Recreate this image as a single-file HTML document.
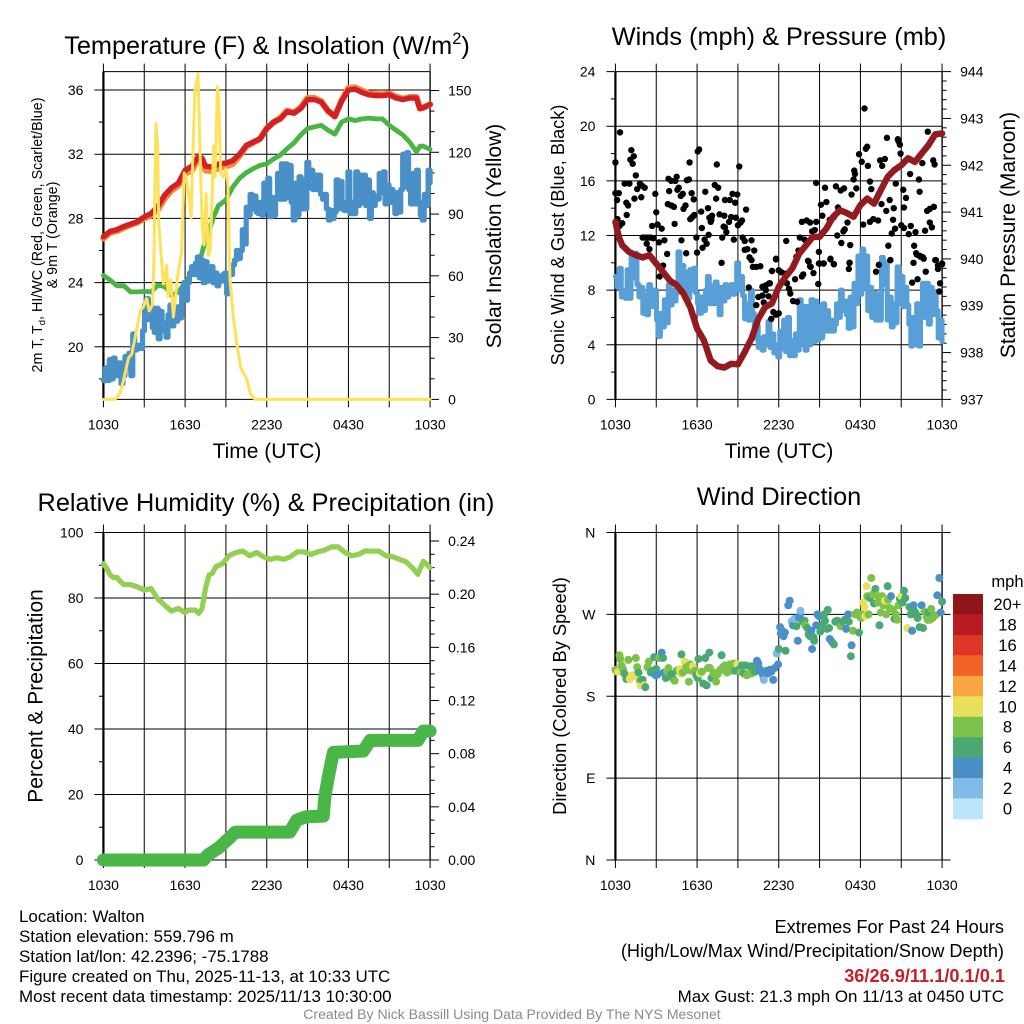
<!DOCTYPE html>
<html lang="en">
<head>
<meta charset="utf-8">
<title>NYS Mesonet Station Meteogram - Walton</title>
<style>
html,body{margin:0;padding:0;background:#fff;}
svg{display:block;}
text{font-family:"Liberation Sans",Arial,Helvetica,sans-serif;fill:#000;}
.tick{font-size:14px;}
.axt{font-size:21px;}
.ttl{font-size:25.3px;}
.foot{font-size:16.95px;}
.foot-lg{font-size:18.2px;}
</style>
</head>
<body>
<svg id="fig" xmlns="http://www.w3.org/2000/svg" width="1024" height="1024" viewBox="0 0 1024 1024">
<rect x="0" y="0" width="1024" height="1024" fill="#fff"/>
<g id="p1"></g>
<g id="p2"></g>
<g id="p3"></g>
<g id="p4"></g>
<g id="cb"></g>

<text class="ttl" x="267" y="54" text-anchor="middle">Temperature (F) &amp; Insolation (W/m<tspan font-size="16.5" dy="-10">2</tspan><tspan dy="10">)</tspan></text>
<text class="ttl" x="779" y="45" text-anchor="middle">Winds (mph) &amp; Pressure (mb)</text>
<text class="ttl" x="266" y="511" text-anchor="middle">Relative Humidity (%) &amp; Precipitation (in)</text>
<text class="ttl" x="779" y="505" text-anchor="middle">Wind Direction</text>

<text class="axt" x="267" y="458" text-anchor="middle">Time (UTC)</text>
<text class="axt" x="779" y="458" text-anchor="middle">Time (UTC)</text>

<text font-size="14.3" text-anchor="middle" transform="translate(42,235) rotate(-90)">2m T, T<tspan font-size="9.5" dy="3">d</tspan><tspan dy="-3">, HI/WC (Red, Green, Scarlet/Blue)</tspan></text>
<text font-size="14.3" text-anchor="middle" transform="translate(57,235) rotate(-90)">&amp; 9m T (Orange)</text>
<text class="axt" text-anchor="middle" transform="translate(501,236) rotate(-90)">Solar Insolation (Yellow)</text>
<text font-size="18.2" text-anchor="middle" transform="translate(564,235) rotate(-90)">Sonic Wind &amp; Gust (Blue, Black)</text>
<text class="axt" text-anchor="middle" transform="translate(1015,235) rotate(-90)">Station Pressure (Maroon)</text>
<text class="axt" text-anchor="middle" transform="translate(42.5,696) rotate(-90)">Percent &amp; Precipitation</text>
<text font-size="18.3" text-anchor="middle" transform="translate(566,696) rotate(-90)">Direction (Colored By Speed)</text>

<text class="foot" x="19" y="922">Location: Walton</text>
<text class="foot" x="19" y="942">Station elevation: 559.796 m</text>
<text class="foot" x="19" y="962">Station lat/lon: 42.2396; -75.1788</text>
<text class="foot" x="19" y="982">Figure created on Thu, 2025-11-13, at 10:33 UTC</text>
<text class="foot" x="19" y="1002">Most recent data timestamp: 2025/11/13 10:30:00</text>
<text class="foot-lg" x="1004" y="933" text-anchor="end">Extremes For Past 24 Hours</text>
<text class="foot-lg" x="1004" y="957" text-anchor="end">(High/Low/Max Wind/Precipitation/Snow Depth)</text>
<text class="foot-lg" x="1005" y="982" text-anchor="end" font-weight="bold" style="fill:#c4202b">36/26.9/11.1/0.1/0.1</text>
<text class="foot" x="1004" y="1002" text-anchor="end">Max Gust: 21.3 mph On 11/13 at 0450 UTC</text>
<text font-size="14.05" x="512" y="1019" text-anchor="middle" style="fill:#8a8a8a">Created By Nick Bassill Using Data Provided By The NYS Mesonet</text>
</svg>
<script>
// ---- shared time axis ----
const timeTicks = [0, 3, 6, 9, 12, 15, 18, 21, 24];
const timeLabelHours = [0, 6, 12, 18, 24];
const timeLabels = ['1030', '1630', '2230', '0430', '1030'];

// ---- panel 1: temperature & insolation ----
const tempTicks = [20, 24, 28, 32, 36];
const tempMinorTicks = [18, 22, 26, 30, 34];
const solarTicks = [0, 30, 60, 90, 120, 150];
const solarMinorTicks = [10, 20, 40, 50, 70, 80, 100, 110, 130, 140];
const tempHours = [0,.5,1,1.5,2,2.5,3,3.5,4,4.5,5,5.5,6,6.5,7,7.25,7.5,8,8.5,9,9.5,10,10.5,11,11.5,12,12.5,13,13.5,14,14.5,15,15.5,16,16.5,17,17.5,18,18.5,19,19.5,20,20.5,21,21.5,22,22.5,23,23.25,23.5,24];
const redTemp = [26.86,27.2,27.3,27.5,27.65,27.8,28.1,28.3,28.75,29.45,29.9,30.2,31.0,31.25,31.9,31.75,31.25,31.2,31.4,31.45,31.6,32.0,32.55,32.75,32.95,33.6,34.0,34.2,34.65,34.55,34.85,35.4,35.4,35.25,34.7,34.35,35.3,36.0,36.05,35.85,35.7,35.65,35.65,35.7,35.5,35.4,35.5,35.5,34.85,34.9,35.1];
const orangeTemp = [26.76,27.12,27.22,27.42,27.6,27.75,28.0,28.2,28.55,29.25,29.75,30.05,30.8,31.0,31.8,31.55,31.0,30.95,31.15,31.25,31.4,31.9,32.5,32.72,32.95,33.6,33.98,34.25,34.7,34.6,34.9,35.5,35.5,35.3,34.7,34.35,35.35,36.12,36.15,35.95,35.78,35.75,35.72,35.78,35.58,35.45,35.55,35.55,34.85,34.9,35.1];
const greenHours = [0,.5,1,1.5,2,2.5,3,3.5,4,4.5,4.8,5,5.5,6,6.5,7.1,7.35,7.7,8.1,8.45,9,9.5,10,10.5,11,11.5,12,12.5,13,13.5,14,14.5,15,15.5,16,16.5,17,17.5,18,18.5,19,19.5,20,20.5,21,21.5,22,22.5,23,23.25,23.5,24];
const greenTemp = [24.45,24.15,23.8,23.8,23.42,23.42,23.45,23.42,23.85,23.75,23.5,23.2,23.4,24.0,24.6,25.4,26.2,27.05,28.1,28.8,29.15,29.95,30.5,30.85,31.1,31.3,31.4,31.7,31.95,32.35,32.7,33.2,33.6,33.7,33.8,33.5,33.25,34.0,34.2,34.1,34.2,34.25,34.2,34.2,33.8,33.5,33.2,32.75,32.15,32.5,32.5,32.3];
const dewpoint = [
17.9,18.7,17.9,19.2,18.0,19.3,18.9,
18.2,19.0,17.7,18.2,19.4,18.7,19.6,
18.2,20.8,19.8,19.9,20.1,19.9,21.0,
22.6,23.0,21.7,22.5,21.2,20.9,22.4,
20.5,22.2,21.5,21.0,20.6,22.0,22.6,
21.3,22.4,21.6,22.5,21.8,23.5,24.0,
22.9,24.0,24.6,25.0,24.5,25.2,25.6,
24.3,25.4,24.0,25.3,24.1,24.5,25.0,
24.0,24.6,23.8,24.4,24.1,24.5,24.6,
23.3,24.5,24.5,25.1,25.4,26.0,25.5,
26.0,27.3,26.4,28.7,28.2,29.5,28.6,
29.4,28.4,28.3,29.0,28.2,30.2,28.5,
30.5,28.1,29.3,28.2,29.3,30.8,29.2,
31.4,29.2,31.4,29.3,31.3,29.0,27.9,
30.2,28.2,30.6,28.6,30.4,28.6,31.5,
29.9,31.0,29.8,30.7,29.8,30.7,29.5,
29.2,29.5,28.6,27.9,28.5,28.0,28.4,
30.4,28.6,30.3,29.0,28.5,29.0,30.9,
28.3,29.0,28.3,30.9,28.8,30.7,29.0,
30.7,28.8,30.4,28.0,29.6,28.8,29.4,
29.2,30.8,29.6,30.9,28.9,30.1,29.0,
29.8,29.0,28.3,29.6,28.4,29.8,32.0,
30.0,32.1,29.8,28.9,30.8,28.9,31.0,
29.0,28.2,27.9,29.5,28.8,31.0,30.2
];
const solarHours = [0,.85,1.22,1.5,1.84,2.08,2.33,2.7,2.95,3.18,3.36,3.62,3.72,3.85,3.97,4.07,4.24,4.41,4.65,4.75,4.95,5.14,5.3,5.5,5.75,5.93,6.07,6.25,6.44,6.6,6.73,6.95,7.1,7.25,7.4,7.54,7.7,7.84,8.0,8.08,8.2,8.38,8.47,8.62,8.8,9,9.14,9.3,9.55,9.8,10.1,10.53,10.78,11.14,24];
const solarValues = [0,0,3,10,20,22,30,43,45,49,43,46,70,134,125,85,70,56,65,50,58,40,50,62,72,110,108,100,88,125,150,158,120,85,75,100,70,72,100,123,108,152,145,110,108,112,105,58,40,27,15,10,3,0,0];

// ---- panel 2: wind & pressure ----
const windTicks = [0, 4, 8, 12, 16, 20, 24];
const windMinorTicks = [2, 6, 10, 14, 18, 22];
const pressureTicks = [937, 938, 939, 940, 941, 942, 943, 944];
const pressureMinorTicks = [937.2,937.4,937.6,937.8,938.2,938.4,938.6,938.8,939.2,939.4,939.6,939.8,940.2,940.4,940.6,940.8,941.2,941.4,941.6,941.8,942.2,942.4,942.6,942.8,943.2,943.4,943.6,943.8];
const sonicWind = [
9.0,8.2,9.6,7.5,8.0,7.4,9.5,
7.4,10.6,8.9,10.7,8.4,7.5,8.2,
6.3,7.7,6.2,8.4,6.8,7.2,8.0,
5.8,4.6,6.3,5.3,7.3,5.6,8.4,
6.9,8.0,7.2,7.8,10.8,8.2,9.8,
8.1,9.3,7.4,9.5,8.0,9.6,7.8,
7.0,6.3,7.5,6.5,8.0,9.0,7.0,
8.3,7.0,8.6,7.5,6.2,8.2,7.2,
8.4,7.5,8.1,8.4,7.7,8.0,10.0,
8.0,9.0,7.6,5.9,7.0,5.8,8.0,
6.3,4.5,5.4,3.8,4.5,3.6,4.6,
4.0,5.7,3.8,4.8,3.4,4.0,3.1,
5.0,3.7,5.8,3.5,6.0,3.2,4.3,
3.2,4.8,3.6,7.3,4.0,6.8,3.6,
6.8,4.0,7.3,4.2,7.2,4.3,6.8,
4.5,7.0,5.0,6.5,5.0,5.8,5.0,
5.5,7.0,6.0,8.0,6.5,7.2,6.2,
5.2,7.5,5.3,8.5,7.0,10.5,7.7,
11.0,8.2,10.5,6.5,8.2,6.0,7.8,
5.8,7.7,5.8,10.4,8.4,10.0,5.8,
7.5,5.3,7.0,5.6,9.7,7.0,9.0,
6.8,8.2,6.9,5.5,3.9,6.0,4.0,
7.0,3.9,6.5,8.5,6.0,8.5,5.5,
8.2,6.2,7.9,6.5,4.5,5.8,4.2
];
const pressureHours = [0,.25,.5,1,1.5,2,2.5,3,3.5,4,4.5,5,5.5,6,6.5,7,7.5,8,8.5,9,9.5,10,10.5,11,11.5,12,12.5,13,13.5,14,14.5,15,15.5,16,16.5,17,17.5,18,18.5,19,19.5,20,20.5,21,21.5,22,22.5,23,23.5,24];
const pressureValues = [940.79,940.47,940.29,940.15,940.08,940.03,940.08,939.9,939.72,939.54,939.44,939.26,938.97,938.51,938.26,937.83,937.71,937.68,937.76,937.75,938.01,938.3,938.72,938.97,939.05,939.4,939.62,939.8,940.11,940.29,940.47,940.47,940.65,940.9,941.04,940.98,940.9,941.15,941.29,941.18,941.47,941.75,941.9,942.0,942.15,942.07,942.25,942.43,942.66,942.68];
const gustHours = [.34,0,1.17,1.35,1.1,1.27,1.5,.68,1.03,1.8,1.6,1.95,2.15,0,.25,.12,.8,.93,1.4,1.9,2.93,3,.83,.15,.5,.3,2.7,3.1,3.4,2,2.2,2.4,2.8,2.6,2.3,2.5,3.2,3.6,3.8,3.5,3.25,
3.9,4.1,4.4,4.5,3.95,4.65,4.55,4.95,4.8,3.85,4.1,4.3,5.15,5,4.35,5.25,5.4,5.45,6.15,6.05,5.6,5.75,6.6,6.3,6.8,5.75,5.5,5.6,5.8,6.9,7.1,7.05,7,6.35,6.85,5.95,4.85,5.2,6,6.4,6.7,6.55,
7.45,9.1,7.3,7.55,7.4,8.05,8.4,8.6,8.95,8.8,7.65,8,8.35,8.5,8.85,9.3,9.2,9,9.6,7.95,8.05,8.15,7.85,8.7,9.35,9.5,10,9.7,9.5,10.2,7.8,9.85,10,10.1,10.35,10.65,11.8,11.5,12,9.8,11.35,11.05,10.8,
10.35,10.5,10.8,11.05,11.3,10.9,11.25,11.6,12,11.8,11.45,11.5,11.8,12,12.2,12.5,12.6,12.75,12.85,13.05,13.35,13.2,13.7,13.8,13.35,14.2,14.35,14.55,14.9,15,15.3,15.8,16.05,17.2,17.15,19.15,19.35,20.2,21.9,22.15,22.4,22.65,22.8,22.2,21.8,23.55,24,23.7,23.85,23.8,
18.3,19.95,20.75,20.8,20.9,20.95,22.95,18.5,18.4,17.9,18.1,18.55,19.45,19.8,19.6,23.35,23.45,22.55,21.65,17.55,17.6,17.5,22.3,22.35,20.6,21.15,21.35,18.7,18.8,17.7,17.35,14.75,15.4,16.2,16.55,16.8,
15.5,15.1,16.35,15.2,15.75,16.05,13.7,14.05,14.3,14.75,14.65,14.45,20.15,19.55,19.9,20.45,21.2,20.4,20.55,20.3,23.4,23.1,22.9,23.1,23.25,22.75,22.05,21.7,21.55,21,21.2,
18.95,18.7,19.3,18.2,17.05,16.85,16.75,16.3,13.55,13.9,12.55,16.6,17.25,13.45,14.95,13.3,20.05,21.95,22.1,22.4,22.6,15.8,16.05,17.2,14.15,14.3,14.95,15.3,20.2,23.5,23.7,24];
const gustValues = [19.55,17.35,18.25,17.8,17.55,17.25,16.4,15.8,15.8,15.8,15.4,15.65,15.5,15.1,15.1,14.6,14.4,14.2,14.7,14.8,15.05,13.7,13.5,13.2,12.9,12.7,12.7,12.8,12.5,11.85,11.85,11.85,11.8,11.85,11.4,11,11.5,11.65,10.65,9.8,9,
16.15,16,16,16.3,15.25,15.5,15.35,15.05,14.9,14.3,14.2,14.1,14.2,13.95,12.85,16.05,16.1,17.35,18.3,18.15,15.1,14.65,15.2,13.75,14,13.45,13.2,13.3,13.5,13.3,13.45,13.15,13,12.55,12.05,11.85,11.65,10.7,10.75,11.1,11.4,11.7,
17.2,17.05,15.7,15.5,14.7,14.6,14.6,15.05,15,14.4,13.55,13.45,13,13.35,13.3,13.1,12.95,12.75,13.9,12.65,12.6,12.25,11.85,11.7,11.85,11.6,11.65,11,10.95,10.9,10,10.4,10.2,9.7,9.7,9.75,10.3,9.4,9.45,8.2,8.5,8.35,8.25,
6.9,7.5,7.6,8,8.5,7.1,7.55,6.4,6.3,6.2,5.9,9.4,10.25,9.45,9.3,9.2,8.5,8.1,7.75,7.2,7.15,8.8,9,9.15,10.4,10.1,9.7,9.25,8.45,9.95,9.95,10.25,9.9,10,9.55,9.35,9.85,10.2,10,10.6,10.45,10.3,9.35,8.8,8.55,10.2,9.95,9.55,8.5,7.9,
21.3,19.15,19.05,18.9,18.65,18,19.6,18.5,18.35,17.95,17.4,17.1,17.5,17.6,17.1,17.5,17.2,17.3,16.5,16.75,16.5,16.1,16.1,15.2,15.8,15.35,14.75,15.95,15.4,15.45,15,15.85,15.5,15.6,15.3,15.45,
14.45,14.25,14.05,13.45,13.15,13.35,13,13.1,12.95,13,12.4,12.3,14.6,14.3,13.8,14,14.05,13.15,12.5,12.15,14.1,13.95,13.8,12.95,12.6,12.35,12.25,12.7,12.1,12.75,12.55,
13.2,13,13.1,12.8,12.95,12.45,12.3,12,11.85,11.7,11.6,11.45,11.3,10.9,10.8,10.45,11.25,11.25,10.7,10.5,10.4,10.3,9.9,10,10.15,9.75,9.95,9.95,10.2,10.2,9.8,9.9];

// ---- panel 3: humidity & precipitation ----
const rhTicks = [0, 20, 40, 60, 80, 100];
const rhMinorTicks = [10, 30, 50, 70, 90];
const precipTicks = [0, .04, .08, .12, .16, .2, .24];
const precipTickLabels = ['0.00', '0.04', '0.08', '0.12', '0.16', '0.20', '0.24'];
const precipMinorTicks = [.01,.02,.03,.05,.06,.07,.09,.10,.11,.13,.14,.15,.17,.18,.19,.21,.22,.23];
const rhHours = [0,.25,.5,.75,1,1.25,1.5,2,2.5,3,3.5,4,4.5,5,5.5,6,6.25,6.75,7,7.25,7.5,7.75,8,8.25,8.75,9.25,9.75,10.25,10.75,11.25,11.75,12.25,12.75,13.25,13.75,14.25,14.75,15.25,15.75,16.25,16.75,17.25,17.75,18.25,18.75,19.25,19.75,20.25,20.75,21.25,21.75,22.25,22.75,23.1,23.5,24];
const rhValues = [90.5,89,87,86.2,86.3,85,84.1,84.1,83.4,82.4,82.9,79.7,77.8,76,76.8,75.5,76.3,76.3,75.3,76.8,82.9,87,87.5,89.5,90.5,93,93.9,94.3,92.9,93.9,92.6,91.8,92.3,91.8,92.6,94.1,94.1,93.3,94.1,94.6,95.6,95.6,93.9,92.9,93.3,94.4,94.3,94.3,92.9,92.6,91.8,91,89,87.2,91.2,89.3];
const precipHours = [0,7.35,7.7,8.45,9.2,9.7,13.7,14.2,14.9,16.15,16.2,16.27,16.5,16.75,16.9,19.1,19.6,23.1,23.5,24];
const precipValues = [0,0,.004,.009,.016,.021,.021,.03,.0325,.033,.039,.0476,.061,.074,.081,.082,.09,.09,.097,.097];

// ---- panel 4: wind direction ----
const compassTicks = [0, 90, 180, 270, 360];
const compassLabels = ['N', 'E', 'S', 'W', 'N'];
const dirHours = [
0,0.1,0.2,0.3,0.35,0.45,0.55,0.65,0.8,0.95,
1.05,1.1,1.2,1.3,1.45,1.5,1.6,1.7,1.8,1.85,1.95,
2.0,2.1,2.2,2.35,2.45,2.6,2.75,2.85,2.95,
3.0,3.1,3.2,3.4,3.5,3.55,3.7,3.8,3.9,
4.0,4.1,4.25,4.35,4.5,4.6,4.75,4.8,4.85,4.95,
5.1,5.2,5.3,5.4,5.5,5.6,5.7,5.85,5.95,
6.05,6.1,6.2,6.35,6.45,6.6,6.7,6.8,6.9,6.95,
7.05,7.2,7.3,7.4,7.5,7.6,7.7,7.8,7.9,8.0,
8.05,8.2,8.3,8.4,8.5,8.6,8.7,8.8,8.95,
9.05,9.2,9.3,9.45,9.55,9.65,9.75,9.9,
10.0,10.1,10.25,10.4,10.5,10.6,10.7,10.85,10.9,
11.0,11.1,11.2,11.35,11.45,11.6,11.7,11.85,11.95,
12.0,12.1,12.15,12.25,12.35,12.45,12.5,12.7,12.8,12.95,
13.05,13.15,13.3,13.4,13.5,13.55,13.6,13.75,13.9,13.95,
14.1,14.2,14.3,14.4,14.45,14.55,14.6,14.75,14.85,14.95,
15.05,15.15,15.25,15.35,15.4,15.55,15.6,15.7,15.75,15.9,
16.05,16.15,16.3,16.4,16.55,16.7,16.85,16.95,
17.1,17.15,17.3,17.35,17.45,17.6,17.75,17.9,17.95,
18.05,18.1,18.2,18.3,18.35,18.45,18.5,18.6,18.7,18.8,18.9,
19.0,19.1,19.2,19.3,19.4,19.5,19.6,19.7,19.8,19.9,
20.0,20.05,20.15,20.25,20.4,20.5,20.6,20.7,20.8,20.9,
21.0,21.1,21.2,21.3,21.45,21.6,21.7,21.8,21.9,
22.0,22.1,22.2,22.35,22.5,22.6,22.7,22.85,22.95,
23.0,23.1,23.2,23.3,23.4,23.5,23.65,23.8,23.9,24.0];
const dirDegrees = [
209,207,207,225,221,214,210,205,199,220,
199,200,203,202,204,222,212,206,197,192,198,
198,192,190,212,218,206,208,223,203,
210,204,222,228,222,206,200,207,211,
205,204,199,197,208,209,210,205,226,206,
218,212,209,196,215,208,213,208,203,
200,221,205,207,194,222,192,211,228,211,
200,206,204,196,204,207,209,225,212,209,
214,206,212,215,208,214,216,208,215,
209,207,214,205,214,203,205,213,
205,213,207,219,216,210,207,203,198,
206,208,205,209,207,198,211,227,215,
232,256,249,252,246,250,230,280,285,262,
258,265,257,241,266,269,274,262,263,258,
255,248,246,252,232,245,241,258,270,268,
251,258,256,270,263,254,275,255,243,240,
237,262,263,261,257,262,264,254,
270,262,224,236,252,270,272,250,268,
266,270,283,278,268,301,290,270,288,310,292,
282,298,291,283,258,272,290,280,285,270,
301,286,277,290,275,265,270,264,280,287,
290,283,296,288,255,278,270,252,280,
273,270,266,256,280,255,273,268,264,
272,264,276,266,268,269,291,310,272,284];
const dirSpeeds = [
8,8,10,8,8,8,8,6,6,8,
10,10,10,10,10,8,8,6,8,10,6,
6,10,6,8,8,6,6,6,4,
6,4,8,4,6,4,6,8,8,
8,6,6,8,6,8,10,10,6,8,
10,8,8,8,8,8,10,8,6,
6,6,10,8,6,6,6,8,6,8,
6,8,8,8,8,8,8,6,8,8,
8,8,8,8,8,8,8,6,10,
6,8,6,6,6,8,8,6,
8,6,6,4,4,4,4,4,2,
4,4,4,4,4,4,4,2,4,
6,4,4,4,4,4,6,4,4,2,
4,2,6,4,4,4,2,6,6,8,
6,6,6,4,4,6,6,4,4,4,
6,6,6,6,6,6,6,6,4,4,
6,6,6,6,8,6,6,4,
4,6,6,4,8,8,8,6,8,
8,8,10,10,10,10,8,8,6,8,8,
6,6,8,8,6,8,8,8,10,8,
6,8,8,4,8,6,8,8,8,6,
10,6,6,6,10,6,6,4,4,
6,6,6,6,4,6,8,8,8,
6,8,8,8,8,8,4,4,4,6];

// ---- colour bar ----
const speedLevels = [20, 18, 16, 14, 12, 10, 8, 6, 4, 2, 0];
const speedLabels = ['20+', '18', '16', '14', '12', '10', '8', '6', '4', '2', '0'];
const speedColors = ['#8f1519', '#b91b23', '#de3527', '#f26328', '#f8a743', '#e8e05a', '#7cc24a', '#49a874', '#4a90c8', '#7fbbe6', '#bce6f9'];

// ---- helpers ----
const NS = 'http://www.w3.org/2000/svg';
function make(tag, parent, attrs, txt) {
  const node = document.createElementNS(NS, tag);
  for (const k in attrs) node.setAttribute(k, attrs[k]);
  if (txt !== undefined) node.textContent = txt;
  parent.appendChild(node);
  return node;
}
function linScale(d0, d1, r0, r1) {
  return function (v) { return r0 + (v - d0) * (r1 - r0) / (d1 - d0); };
}
function evenHours(values) {
  return values.map(function (_, i) { return i * 24 / (values.length - 1); });
}
function seg(parent, x1, y1, x2, y2, w, name) {
  const ln = make('line', parent, { x1: x1, y1: y1, x2: x2, y2: y2, stroke: '#000', 'stroke-width': w });
  
  
  return ln;
}
function label(parent, x, y, anchor, str, name, size) {
  const t = make('text', parent, { x: x, y: y, 'text-anchor': anchor, class: 'tick' }, str);
  if (size) t.setAttribute('style', 'font-size:' + size + 'px');
  
  
  return t;
}
function linePath(parent, hours, values, xs, ys, color, width, name) {
  let d = '';
  for (let i = 0; i < values.length; i++) {
    d += (i ? 'L' : 'M') + xs(hours[i]).toFixed(2) + ' ' + ys(values[i]).toFixed(2);
  }
  const p = make('path', parent, { d: d, fill: 'none', stroke: color, 'stroke-width': width, 'stroke-linejoin': 'round', 'stroke-linecap': 'round' });
  
  
  return p;
}
function stepPath(parent, hours, values, xs, ys, color, width, name) {
  let d = 'M' + xs(hours[0]).toFixed(2) + ' ' + ys(values[0]).toFixed(2);
  for (let i = 1; i < values.length; i++) {
    d += 'H' + xs(hours[i]).toFixed(2) + 'V' + ys(values[i]).toFixed(2);
  }
  const p = make('path', parent, { d: d, fill: 'none', stroke: color, 'stroke-width': width, 'stroke-linejoin': 'round', 'stroke-linecap': 'round' });
  
  
  return p;
}
function frame(g, box, xs, leftScale, leftTicks, leftLabels, leftMinor, rightScale, rightTicks, rightLabels, rightMinor) {
  timeTicks.forEach(function (h) {
    seg(g, xs(h), box.top - 8, xs(h), box.bottom + 8, 1, 'x-grid-line');
  });
  leftTicks.forEach(function (v) {
    seg(g, box.left - 9, leftScale(v), box.right + (box.extendRight || 0), leftScale(v), 1, 'y-grid-line');
  });
  leftMinor.forEach(function (v) {
    seg(g, box.left - 4.5, leftScale(v), box.left, leftScale(v), 1, 'y-minor-tick');
  });
  seg(g, box.left, box.top, box.left, box.bottom, 2.2, 'left-axis-line');
  seg(g, box.right, box.top, box.right, box.bottom, 1.3, 'right-axis-line');
  leftTicks.forEach(function (v, i) {
    label(g, box.left - 20, leftScale(v) + 5, 'end', leftLabels[i], 'y-tick-label');
  });
  timeLabelHours.forEach(function (h, i) {
    label(g, xs(h), box.bottom + 30, 'middle', timeLabels[i], 'x-tick-label');
  });
  if (rightScale) {
    rightTicks.forEach(function (v, i) {
      seg(g, box.right, rightScale(v), box.right + 9, rightScale(v), 1, 'right-major-tick');
      label(g, box.right + 18, rightScale(v) + 5, 'start', rightLabels[i], 'right-tick-label');
    });
    rightMinor.forEach(function (v) {
      seg(g, box.right, rightScale(v), box.right + 4.5, rightScale(v), 1, 'right-minor-tick');
    });
  }
}

// ---- panel 1 ----
(function () {
  const g = document.getElementById('p1');
  const box = { left: 103.42, right: 430.07, top: 71.6, bottom: 399.4 };
  const xs = linScale(0, 24, box.left, box.right);
  const yT = linScale(20, 36, 346.8, 90);
  const yS = linScale(0, 150, box.bottom, 90.5);
  frame(g, box, xs, yT, tempTicks, tempTicks.map(String), tempMinorTicks, yS, solarTicks, solarTicks.map(String), solarMinorTicks);
  seg(g, box.left, box.top, box.right, box.top, 1, 'top-axis-line');
  seg(g, box.left, box.bottom, box.right, box.bottom, 1, 'bottom-axis-line');
  linePath(g, tempHours, orangeTemp, xs, yT, '#f5883a', 6.4, 'orange-9m-temperature-line');
  linePath(g, tempHours, redTemp, xs, yT, '#d32027', 5.4, 'red-2m-temperature-line');
  linePath(g, greenHours, greenTemp, xs, yT, '#48b545', 4.8, 'green-heat-index-line');
  stepPath(g, evenHours(dewpoint), dewpoint, xs, yT, '#4a90c8', 5.2, 'blue-dewpoint-line');
  linePath(g, solarHours, solarValues, xs, yS, '#fde25a', 3, 'yellow-insolation-line');
})();

// ---- panel 2 ----
(function () {
  const g = document.getElementById('p2');
  const box = { left: 615.42, right: 942.07, top: 71.6, bottom: 399.4 };
  const xs = linScale(0, 24, box.left, box.right);
  const yW = linScale(0, 24, box.bottom, box.top);
  const yP = linScale(937, 944, box.bottom, box.top);
  frame(g, box, xs, yW, windTicks, windTicks.map(String), windMinorTicks, yP, pressureTicks, pressureTicks.map(String), pressureMinorTicks);
  stepPath(g, evenHours(sonicWind), sonicWind, xs, yW, '#589ed7', 5, 'blue-sonic-wind-line');
  gustValues.forEach(function (v, i) {
    const c = make('circle', g, { cx: xs(gustHours[i]).toFixed(2), cy: yW(v).toFixed(2), r: 3.2, fill: '#000' });
    
    
  });
  linePath(g, pressureHours, pressureValues, xs, yP, '#931a1e', 6.4, 'maroon-pressure-line');
})();

// ---- panel 3 ----
(function () {
  const g = document.getElementById('p3');
  const box = { left: 103.42, right: 430.07, top: 532.5, bottom: 860 };
  const xs = linScale(0, 24, box.left, box.right);
  const yR = linScale(0, 100, box.bottom, box.top);
  const yI = linScale(0, .24, box.bottom, 541);
  frame(g, box, xs, yR, rhTicks, rhTicks.map(String), rhMinorTicks, yI, precipTicks, precipTickLabels, precipMinorTicks);
  linePath(g, rhHours, rhValues, xs, yR, '#92cf53', 5.2, 'relative-humidity-line');
  linePath(g, precipHours, precipValues, xs, yI, '#4ab648', 13, 'precipitation-line');
})();

// ---- panel 4 ----
(function () {
  const g = document.getElementById('p4');
  const box = { left: 615.42, right: 942.07, top: 532.5, bottom: 860, extendRight: 8.5 };
  const xs = linScale(0, 24, box.left, box.right);
  const yD = linScale(0, 360, box.bottom, box.top);
  frame(g, box, xs, yD, compassTicks, compassLabels, [], null);
  dirDegrees.forEach(function (deg, i) {
    const idx = speedLevels.indexOf(dirSpeeds[i]);
    const c = make('circle', g, { cx: xs(dirHours[i]).toFixed(2), cy: yD(deg).toFixed(2), r: 4, fill: speedColors[idx] });
    
    
  });
})();

// ---- colour bar ----
(function () {
  const g = document.getElementById('cb');
  const ys = linScale(0, speedLevels.length, 594, 819);
  speedLevels.forEach(function (lvl, i) {
    const r = make('rect', g, { x: 953, y: ys(i).toFixed(2), width: 30, height: (ys(i + 1) - ys(i) + .3).toFixed(2), fill: speedColors[i] });
    
    
    label(g, 1007.5, ys(i) + 16, 'middle', speedLabels[i], 'colorbar-label', 16.6);
  });
  label(g, 1007.5, 587, 'middle', 'mph', 'colorbar-unit', 16.6);
})();
</script>
</body>
</html>
